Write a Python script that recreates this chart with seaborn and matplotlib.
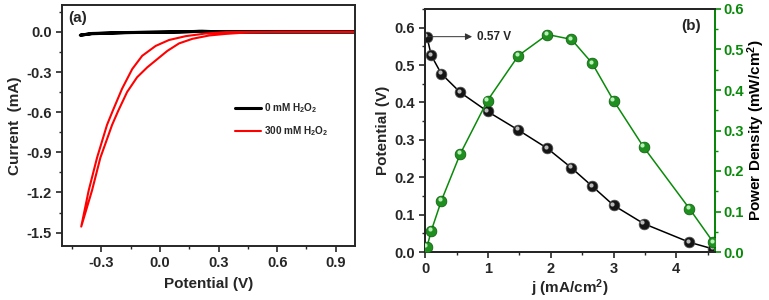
import numpy as np
import pandas as pd
import seaborn as sns
import matplotlib
matplotlib.use("Agg")
import matplotlib.pyplot as plt
from matplotlib import transforms
from matplotlib.ticker import MultipleLocator

# ---- panel (a): CV curves ----
# red loop: down along the inner branch to the tip, back up along the outer one
red_v = [1.0, 0.6, 0.45, 0.338, 0.252, 0.166, 0.098, 0.038, -0.014, -0.065, -0.117,
         -0.168, -0.214, -0.245, -0.305, -0.348, -0.403,
         -0.365, -0.322, -0.271, -0.242, -0.194, -0.142, -0.091, -0.022, 0.046,
         0.132, 0.235, 0.338, 0.5, 1.0]
red_i = [0.0, 0.0, -0.004, -0.015, -0.027, -0.052, -0.086, -0.142, -0.204, -0.265, -0.339,
         -0.449, -0.591, -0.695, -0.94, -1.186, -1.455,
         -1.186, -0.94, -0.695, -0.591, -0.425, -0.278, -0.179, -0.105, -0.061,
         -0.032, -0.012, -0.002, 0.0, 0.0]
black_v = [1.0, 0.6, 0.3, 0.216, 0.1, -0.177, -0.348, -0.408, -0.35, -0.18, 0.0, 0.2, 0.3, 0.6, 1.0]
black_i = [0.0, 0.0, 0.0, 0.005, -0.001, -0.005, -0.012, -0.025, -0.014, -0.006, -0.002, 0.003, 0.0, 0.0, 0.0]

# ---- panel (b): polarisation and power density ----
j_cur = [0.027, 0.095, 0.255, 0.557, 0.992, 1.485, 1.947, 2.33, 2.66, 3.0, 3.48, 4.21, 4.59]
pot = [0.576, 0.526, 0.477, 0.427, 0.376, 0.326, 0.277, 0.225, 0.176, 0.125, 0.076, 0.026, 0.008]
power = [0.012, 0.052, 0.126, 0.242, 0.374, 0.485, 0.537, 0.525, 0.466, 0.374, 0.259, 0.107, 0.024]

GREEN = "#0a8a0a"

sns.set_style("ticks")
plt.rcParams['font.family'] = ['Liberation Sans', 'DejaVu Sans']
plt.rcParams['font.weight'] = 'bold'
plt.rcParams['axes.labelweight'] = 'bold'
plt.rcParams['mathtext.fontset'] = 'custom'
plt.rcParams['mathtext.rm'] = 'Liberation Sans:bold'
plt.rcParams['mathtext.bf'] = 'Liberation Sans:bold'
plt.rcParams['mathtext.it'] = 'Liberation Sans:bold'
plt.rcParams['axes.linewidth'] = 1.4

fig = plt.figure(figsize=(7.69, 3.0), dpi=100)
ax1 = fig.add_axes([0.081, 0.18, 0.381, 0.803])
ax2 = fig.add_axes([0.553, 0.16, 0.377, 0.81])

# panel a
df_red = pd.DataFrame({"v": red_v, "i": red_i})
df_blk = pd.DataFrame({"v": black_v, "i": black_i})
sns.lineplot(data=df_blk, x="v", y="i", sort=False, estimator=None, color="black",
             lw=2.2, ax=ax1, label="0 mM H$_2$O$_2$", solid_joinstyle="round")
sns.lineplot(data=df_red, x="v", y="i", sort=False, estimator=None, color="red",
             lw=1.5, ax=ax1, label="300 mM H$_2$O$_2$", solid_joinstyle="round")
ax1.set_xlim(-0.5, 1.0)
ax1.set_ylim(-1.6, 0.2)
ax1.xaxis.set_minor_locator(MultipleLocator(0.15))
ax1.yaxis.set_minor_locator(MultipleLocator(0.15))
ax1.set_xticks([-0.3, 0.0, 0.3, 0.6, 0.9])
ax1.set_xticklabels(["-0.3", "0.0", "0.3", "0.6", "0.9"])
ax1.set_yticks([0.0, -0.3, -0.6, -0.9, -1.2, -1.5])
ax1.set_yticklabels(["0.0", "-0.3", "-0.6", "-0.9", "-1.2", "-1.5"])
ax1.set_xlabel("Potential (V)", fontsize=11, labelpad=5)
ax1.set_ylabel("Current  (mA)", fontsize=11, labelpad=3)
ax1.tick_params(labelsize=10.5, width=1.2, length=4)
ax1.tick_params(which="minor", width=1.0, length=2.5)
for s in ax1.spines.values():
    s.set_visible(True)
ax1.text(0.02, 0.975, "(a)", transform=ax1.transAxes, fontsize=11, va="top", ha="left")
ax1.legend(loc="center left", bbox_to_anchor=(0.56, 0.525), frameon=False, fontsize=7.2,
           handlelength=2.6, handletextpad=0.3, labelspacing=0.9)

# panel b
ax3 = ax2.twinx()
df_b = pd.DataFrame({"j": j_cur, "v": pot, "p": power})
sns.lineplot(data=df_b, x="j", y="v", color="black", lw=1.1, ax=ax2)
sns.lineplot(data=df_b, x="j", y="p", color=GREEN, lw=1.1, ax=ax3)
sns.scatterplot(data=df_b, x="j", y="v", color="#151515", edgecolor="#555555",
                linewidth=0.5, s=60, ax=ax2, zorder=3)
sns.scatterplot(data=df_b, x="j", y="p", color="#1f8f1f", edgecolor="#0a5a0a",
                linewidth=0.5, s=60, ax=ax3, zorder=3)
# little highlight for the sphere look
off2 = transforms.offset_copy(ax2.transData, fig=fig, x=-1.2, y=1.2, units="points")
off3 = transforms.offset_copy(ax3.transData, fig=fig, x=-1.2, y=1.2, units="points")
ax2.scatter(j_cur, pot, s=9, color="#bbbbbb", lw=0, transform=off2, zorder=4)
ax3.scatter(j_cur, power, s=9, color="#b8f0b8", lw=0, transform=off3, zorder=4)

ax2.set_xlim(0, 4.62)
ax2.set_ylim(0, 0.65)
ax3.set_ylim(0, 0.6)
ax2.xaxis.set_major_locator(MultipleLocator(1))
ax2.xaxis.set_minor_locator(MultipleLocator(0.5))
ax2.yaxis.set_major_locator(MultipleLocator(0.1))
ax2.yaxis.set_minor_locator(MultipleLocator(0.05))
ax3.yaxis.set_major_locator(MultipleLocator(0.1))
ax3.yaxis.set_minor_locator(MultipleLocator(0.05))
ax2.set_xlabel("j (mA/cm$^2$)", fontsize=11, labelpad=1)
ax2.set_ylabel("Potential (V)", fontsize=11, labelpad=3)
ax3.set_ylabel("Power Density (mW/cm$^2$)", fontsize=11, color="black", labelpad=1)
ax2.tick_params(labelsize=10.5, width=1.2, length=4)
ax2.tick_params(which="minor", width=1.0, length=2.5)
ax3.tick_params(labelsize=10.5, width=1.2, length=4, colors=GREEN, pad=2)
ax3.tick_params(which="minor", width=1.0, length=2.5, colors=GREEN)
for s in ax2.spines.values():
    s.set_visible(True)
for s in ax3.spines.values():
    s.set_visible(True)
ax3.spines["right"].set_color(GREEN)
ax2.annotate("0.57 V", xy=(0.03, pot[0]), xytext=(0.82, pot[0]), fontsize=8.5, va="center",
             arrowprops=dict(arrowstyle="<|-", color="#333333", lw=0.7, shrinkA=1, shrinkB=0,
                             mutation_scale=10))
ax2.text(4.24, 0.605, "(b)", fontsize=11, ha="center", va="center")

fig.savefig("out.png", dpi=100)
